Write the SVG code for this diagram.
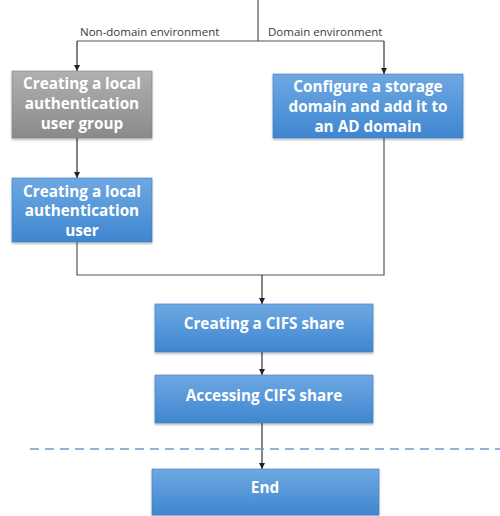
<svg xmlns="http://www.w3.org/2000/svg" width="500" height="516" viewBox="0 0 500 516">
  <defs>
    <linearGradient id="blueFill" x1="0" y1="0" x2="0" y2="1">
      <stop offset="0" stop-color="#6ea8e2"/>
      <stop offset="1" stop-color="#3f86d0"/>
    </linearGradient>
    <linearGradient id="greyFill" x1="0" y1="0" x2="0" y2="1">
      <stop offset="0" stop-color="#b0b0b0"/>
      <stop offset="1" stop-color="#8a8a8a"/>
    </linearGradient>
    <filter id="shadow" x="-10%" y="-10%" width="120%" height="130%">
      <feDropShadow dx="0" dy="1.5" stdDeviation="1" flood-color="#000" flood-opacity="0.3"/>
    </filter>
    <marker id="arrow" viewBox="0 0 6 6" refX="6" refY="3" markerWidth="6" markerHeight="6" orient="auto" markerUnits="userSpaceOnUse">
      <path d="M0,0 L6,3 L0,6 Z" fill="#222"/>
    </marker>
  </defs>
  <style>
    .box { filter: url(#shadow); }
    .blue { fill: url(#blueFill); stroke: #3a7cc0; stroke-width: 0.6; }
    .grey { fill: url(#greyFill); stroke: #808080; stroke-width: 0.6; }
    .label { font-family: "Open Sans", "Noto Sans", sans-serif; font-weight: bold; font-size: 15.3px; fill: #ffffff; text-anchor: middle; }
    .branch { font-family: "Open Sans", "Noto Sans", sans-serif; font-size: 11.5px; fill: #3a3a3a; }
    .wire { fill: none; stroke: #555555; stroke-width: 1.2; }
    .flow { fill: none; stroke: #333333; stroke-width: 1.2; marker-end: url(#arrow); }
  </style>

  <rect width="500" height="516" fill="#ffffff"/>

  <!-- connectors -->
  <g id="connectors">
    <path class="wire" d="M258,0 V41 M77,41 H384"/>
    <path class="flow" d="M77,41 V71"/>
    <path class="flow" d="M384,41 V74"/>
    <path class="flow" d="M77,138 V178"/>
    <path class="wire" d="M77,242 V275 H384 V138"/>
    <path class="flow" d="M262,275 V304"/>
    <path class="flow" d="M262,352 V375"/>
    <path class="flow" d="M262,423 V469"/>
  </g>

  <!-- branch labels -->
  <text class="branch" x="80" y="36">Non-domain environment</text>
  <text class="branch" x="268" y="36">Domain environment</text>

  <!-- separator -->
  <line x1="30" y1="449" x2="500" y2="449" stroke="#6d9bd0" stroke-width="1.6" stroke-dasharray="9,6"/>

  <g id="local-group">
    <rect class="box grey" x="12" y="71" width="140" height="67"/>
    <text class="label"><tspan x="82" y="89">Creating a local</tspan><tspan x="82" y="109">authentication</tspan><tspan x="82" y="129">user group</tspan></text>
  </g>

  <g id="storage-domain">
    <rect class="box blue" x="273" y="74" width="190" height="64"/>
    <text class="label"><tspan x="368" y="92">Configure a storage</tspan><tspan x="368" y="112">domain and add it to</tspan><tspan x="368" y="132">an AD domain</tspan></text>
  </g>

  <g id="local-user">
    <rect class="box blue" x="12" y="178" width="140" height="64"/>
    <text class="label"><tspan x="82" y="197">Creating a local</tspan><tspan x="82" y="216">authentication</tspan><tspan x="82" y="236">user</tspan></text>
  </g>

  <g id="create-share">
    <rect class="box blue" x="155" y="304" width="218" height="48"/>
    <text class="label" x="264" y="329">Creating a CIFS share</text>
  </g>

  <g id="access-share">
    <rect class="box blue" x="155" y="375" width="218" height="48"/>
    <text class="label" x="264" y="401">Accessing CIFS share</text>
  </g>

  <g id="end">
    <rect class="box blue" x="152" y="469" width="227" height="46"/>
    <text class="label" x="265" y="493">End</text>
  </g>
</svg>
